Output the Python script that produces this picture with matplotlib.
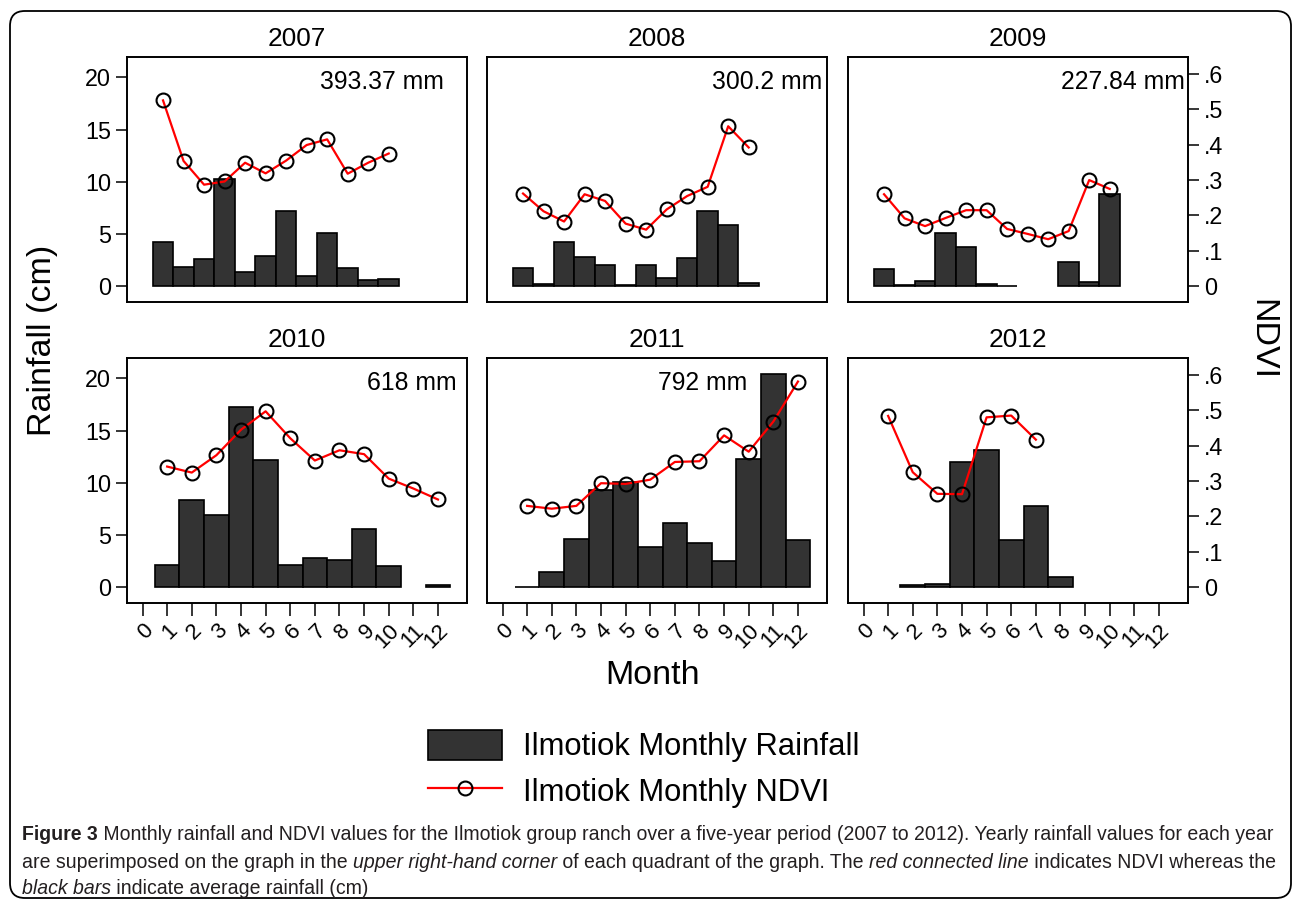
import numpy as np
import matplotlib
matplotlib.use('Agg')
import matplotlib.pyplot as plt
from matplotlib import font_manager
from matplotlib.patches import FancyBboxPatch

plt.rcParams['font.family'] = ['Liberation Sans', 'DejaVu Sans']

nan = np.nan
years = [2007, 2008, 2009, 2010, 2011, 2012]
months = np.arange(1, 13)

# monthly rainfall (cm)
rain_2007 = [4.28, 1.85, 2.59, 10.29, 1.41, 2.88, 7.22, 0.99, 5.08, 1.73, 0.61, 0.67]
rain_2008 = [1.73, 0.19, 4.25, 2.81, 2.01, 0.10, 2.08, 0.83, 2.72, 7.22, 5.85, 0.29]
rain_2009 = [1.63, 0.13, 0.54, 5.08, 3.74, 0.19, 0.06, nan, nan, 2.33, 0.42, 8.82]
rain_2010 = [2.11, 8.37, 6.90, 17.25, 12.17, 2.11, 2.78, 2.62, 5.59, 2.04, nan, 0.19]
rain_2011 = [0.05, 1.47, 4.63, 9.33, 10.06, 3.83, 6.13, 4.25, 2.52, 12.24, 20.42, 4.54]
rain_2012 = [nan, 0.19, 0.32, 11.95, 13.10, 4.54, 7.80, 0.99, nan, nan, nan, nan]

# monthly NDVI
ndvi_2007 = [0.525, 0.354, 0.287, 0.296, 0.349, 0.319, 0.355, 0.399, 0.415, 0.318, 0.349, 0.375]
ndvi_2008 = [0.262, 0.212, 0.183, 0.260, 0.241, 0.177, 0.160, 0.217, 0.255, 0.281, 0.452, 0.392]
ndvi_2009 = [0.260, 0.192, 0.170, 0.193, 0.215, 0.215, 0.162, 0.148, 0.133, 0.156, 0.300, 0.275]
ndvi_2010 = [0.341, 0.324, 0.373, 0.445, 0.497, 0.421, 0.358, 0.387, 0.376, 0.307, 0.279, 0.248]
ndvi_2011 = [0.230, 0.222, 0.230, 0.294, 0.292, 0.304, 0.354, 0.356, 0.429, 0.383, 0.468, 0.581]
ndvi_2012 = [0.484, 0.325, 0.264, 0.263, 0.480, 0.485, 0.417, nan, nan, nan, nan, nan]

rains = [rain_2007, rain_2008, rain_2009, rain_2010, rain_2011, rain_2012]
ndvis = [ndvi_2007, ndvi_2008, ndvi_2009, ndvi_2010, ndvi_2011, ndvi_2012]
totals = ['393.37 mm', '300.2 mm', '227.84 mm', '618 mm', '792 mm', None]

rain_ticks = [0, 5, 10, 15, 20]
ndvi_ticks = [0, 0.1, 0.2, 0.3, 0.4, 0.5, 0.6]
ndvi_ticklabels = ['0', '.1', '.2', '.3', '.4', '.5', '.6']
month_ticks = list(range(13))

# layout (pixels)
W, H = 1296, 906
lefts = [127, 487, 848]
tops = [57, 358]
pw, ph = 340, 245
top_scale = 10 / 12          # top-row months are squeezed in the original
total_x = [7.2, 8.5, 8.04, 9.1, 6.33, None]
ndvi_k = 0.0295
ylo, yhi = -1.5, 21.95


def rect(l, t, w, h):
    return [l / W, 1 - (t + h) / H, w / W, h / H]


fig = plt.figure(figsize=(W / 100, H / 100), dpi=100)

for i, yr in enumerate(years):
    row, col = divmod(i, 3)
    ax = fig.add_axes(rect(lefts[col], tops[row], pw, ph))
    sc = top_scale if row == 0 else 1.0
    x = months * sc
    bars = ax.bar(x, rains[i], width=sc, color='#333333', edgecolor='black',
                  linewidth=1.2, zorder=2)
    ax.set_xlim(-0.63, 13.18)
    ax.set_ylim(ylo, yhi)
    ax2 = ax.twinx()
    line, = ax2.plot(x, ndvis[i], color='red', lw=1.6, marker='o', ms=10,
                     mfc='none', mec='black', mew=1.5)
    ax2.set_ylim(ylo * ndvi_k, yhi * ndvi_k)
    for a in (ax, ax2):
        for s in a.spines.values():
            s.set_linewidth(1.2)

    ax.set_yticks(rain_ticks)
    if col == 0:
        ax.tick_params(axis='y', length=8, width=1.1, labelsize=16.8, pad=3.5)
    else:
        ax.tick_params(axis='y', left=False, labelleft=False)
    ax2.set_yticks(ndvi_ticks)
    if col == 2:
        ax2.set_yticklabels(ndvi_ticklabels)
        ax2.tick_params(axis='y', length=8, width=1.1, labelsize=16.8, pad=3.5)
    else:
        ax2.tick_params(axis='y', right=False, labelright=False)

    if row == 1:
        ax.set_xticks(month_ticks)
        ax.set_xticklabels([str(m) for m in month_ticks], rotation=45,
                           ha='right', va='top', rotation_mode='anchor')
        ax.tick_params(axis='x', length=9, width=1.1, labelsize=16, pad=3)
    else:
        ax.tick_params(axis='x', bottom=False, labelbottom=False)

    ax.set_title(str(yr), fontsize=18.9, pad=8)
    if totals[i]:
        ax.text(total_x[i], 19.6, totals[i], fontsize=17.8, va='center', ha='left')

fig.text(43 / W, 1 - 340 / H, 'Rainfall (cm)', rotation=90, fontsize=24.5,
         ha='center', va='center')
fig.text(1262 / W, 1 - 340 / H, 'NDVI', rotation=270, fontsize=24.5,
         ha='center', va='center')
fig.text(653 / W, 1 - 676 / H, 'Month', fontsize=24.5, ha='center', va='center')

fig.legend([bars, line], ['Ilmotiok Monthly Rainfall', 'Ilmotiok Monthly NDVI'],
           loc='upper left', bbox_to_anchor=(428 / W, 1 - 730 / H),
           frameon=False, fontsize=22.3, handlelength=2.39, handleheight=1.1,
           handletextpad=0.68, labelspacing=0.42, borderpad=0, borderaxespad=0)

border = FancyBboxPatch((10 / W, 1 - 898 / H), 1281 / W, 887 / H,
                        boxstyle='round,pad=0,rounding_size=0.0115',
                        mutation_aspect=W / H, transform=fig.transFigure,
                        fill=False, lw=1.3, ec='black')
fig.add_artist(border)

# caption
names = {f.name for f in font_manager.fontManager.ttflist}
cap_family = 'Liberation Sans Narrow' if 'Liberation Sans Narrow' in names else 'Liberation Sans'
cap_color = '#231f20'
cap_lines = [
    [("Figure 3", "bold", "normal"),
     (" Monthly rainfall and NDVI values for the Ilmotiok group ranch over a five-year period (2007 to 2012). Yearly rainfall values for each year", "normal", "normal")],
    [("are superimposed on the graph in the ", "normal", "normal"),
     ("upper right-hand corner", "normal", "italic"),
     (" of each quadrant of the graph. The ", "normal", "normal"),
     ("red connected line", "normal", "italic"),
     (" indicates NDVI whereas the", "normal", "normal")],
    [("black bars", "normal", "italic"),
     (" indicate average rainfall (cm)", "normal", "normal")],
]
cap_y = [835, 862, 889]
renderer = fig.canvas.get_renderer()


def draw_line(parts, x0, y, size):
    x = x0
    for s, w, st in parts:
        t = fig.text(x / W, 1 - y / H, s, fontsize=size, fontweight=w,
                     fontstyle=st, family=cap_family, color=cap_color,
                     ha='left', va='center')
        x += t.get_window_extent(renderer=renderer).width
    return x - x0


probe = fig.add_axes([0, 0, 0.01, 0.01])
probe.set_visible(False)
test_w = 0
for s, w, st in cap_lines[0]:
    t = probe.text(0, 0, s, fontsize=12, fontweight=w, fontstyle=st, family=cap_family)
    test_w += t.get_window_extent(renderer=renderer).width
    t.remove()
probe.remove()
cap_size = 12 * 1254 / test_w

for parts, y in zip(cap_lines, cap_y):
    draw_line(parts, 22, y, cap_size)

fig.savefig('out.png', dpi=100)
